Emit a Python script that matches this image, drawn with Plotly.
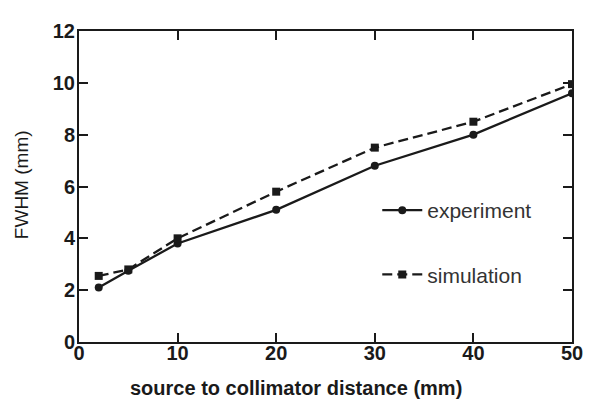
import plotly.graph_objects as go

x_vals = [2, 5, 10, 20, 30, 40, 50]
experiment = [2.1, 2.75, 3.8, 5.1, 6.8, 8.0, 9.6]
simulation = [2.55, 2.8, 4.0, 5.8, 7.5, 8.5, 9.95]
x_ticks = [0, 10, 20, 30, 40, 50]
y_ticks = [0, 2, 4, 6, 8, 10, 12]

ink = "#1a1a1a"
fig = go.Figure()
fig.add_trace(go.Scatter(x=x_vals, y=experiment, name="experiment", mode="lines+markers",
                         line=dict(color=ink, width=2.3), marker=dict(symbol="circle", size=8, color=ink),
                         legendgroup="a"))
fig.add_trace(go.Scatter(x=x_vals, y=simulation, name="simulation", mode="lines+markers",
                         line=dict(color=ink, width=2.3, dash="10px,5px"), marker=dict(symbol="square", size=8, color=ink),
                         legendgroup="b"))

axis_common = dict(showline=True, linecolor=ink, linewidth=2, mirror="ticks", ticks="inside",
                   ticklen=9, tickwidth=2, tickcolor=ink, showgrid=False, zeroline=False,
                   tickfont=dict(family="Liberation Sans", size=20, color=ink, weight="bold"))
fig.update_xaxes(range=[0, 50], tickvals=x_ticks, ticklabelstandoff=-8, **axis_common)
fig.update_yaxes(range=[0, 12], tickvals=y_ticks, ticklabelstandoff=-2, **axis_common)
# page body has an 8px default margin, so the figure is 8px smaller and shifted
fig.update_layout(width=587, height=397, margin=dict(l=71, r=18, t=14, b=63),
                  paper_bgcolor="white", plot_bgcolor="white",
                  legend=dict(x=0.605, y=0.32, xanchor="left", yanchor="middle", bgcolor="rgba(0,0,0,0)",
                              font=dict(family="Liberation Sans", size=21, color="#333"),
                              tracegroupgap=34, itemwidth=40),
                  showlegend=True,
                  annotations=[
                      dict(text="source to collimator distance (mm)", xref="paper", yref="paper",
                           x=(298 - 79) / 498, y=(342 - 389) / 320, xanchor="center", yanchor="middle",
                           showarrow=False, font=dict(family="Liberation Sans", size=20, color=ink, weight="bold")),
                      dict(text="FWHM (mm)", xref="paper", yref="paper", textangle=-90,
                           x=(21 - 79) / 498, y=(342 - 180) / 320, xanchor="center", yanchor="middle",
                           showarrow=False, font=dict(family="Liberation Sans", size=19, color=ink)),
                  ])
fig.write_html("out.html")
